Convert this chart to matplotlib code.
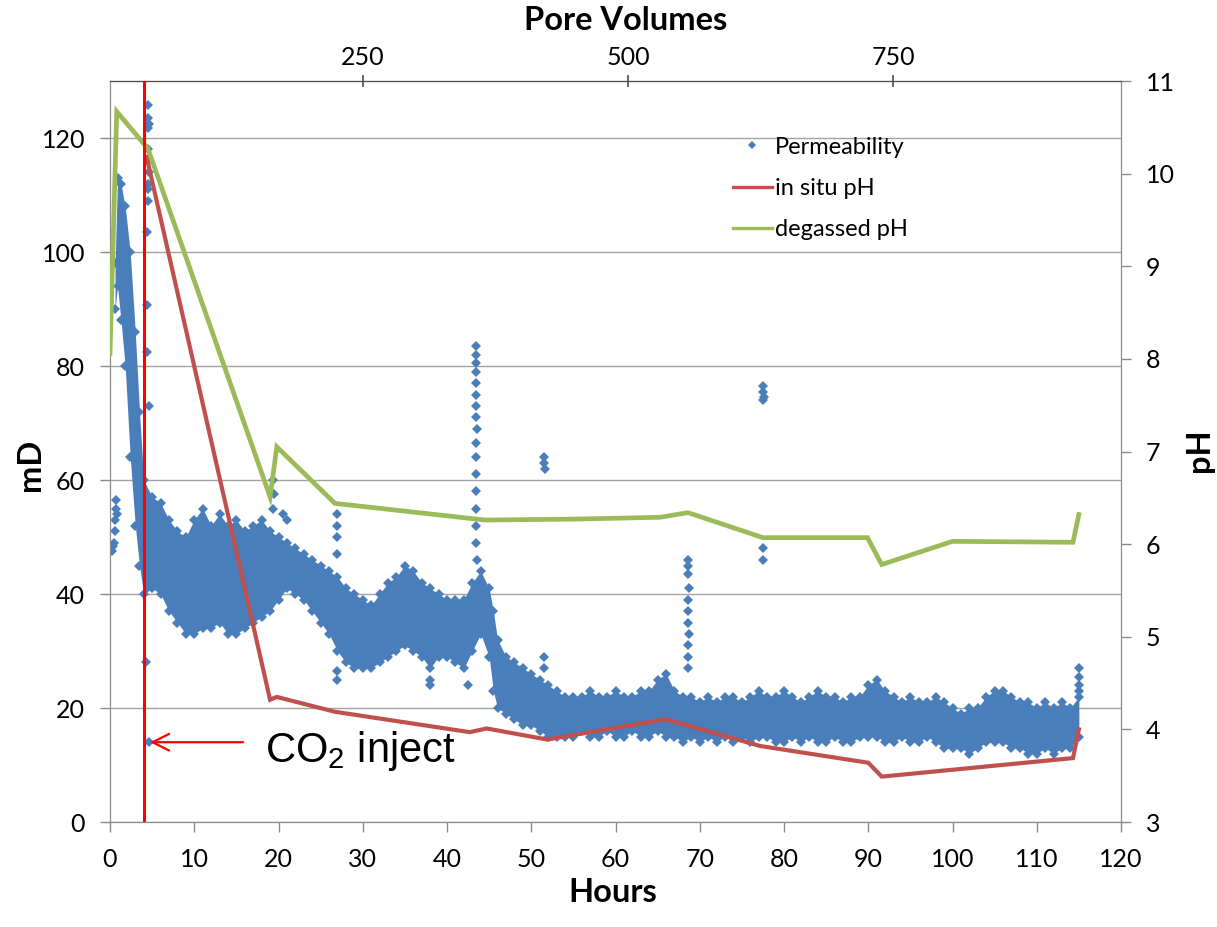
import numpy as np
import matplotlib
matplotlib.use("Agg")
import matplotlib.pyplot as plt
from matplotlib.lines import Line2D

plt.rcParams.update({
    "font.family": ["Lato", "DejaVu Sans"],
    "font.size": 18,
    "mathtext.fontset": "custom",
    "mathtext.rm": "Liberation Sans",
    "mathtext.it": "Liberation Sans:italic",
})

BLUE = "#4a7ebb"
RED = "#c0504d"
GREEN = "#9bbb59"
GRID = "#a3a3a3"
AXIS = "#8a8a8a"

# degassed pH (green) and in situ pH (red), right axis
degas_h = [0.0, 0.8, 4.5, 19.0, 19.8, 26.7, 44.5, 55.0, 65.3, 68.6, 77.5, 89.9, 91.6, 100.0, 114.3, 115.0]
degas_ph = [8.06, 10.67, 10.27, 6.51, 7.05, 6.44, 6.26, 6.27, 6.29, 6.34, 6.07, 6.07, 5.78, 6.03, 6.02, 6.32]

insitu_h = [4.35, 19.0, 19.8, 26.7, 42.7, 44.7, 51.9, 65.9, 77.2, 90.0, 91.6, 114.3, 115.0]
insitu_ph = [10.18, 4.32, 4.35, 4.19, 3.97, 4.01, 3.89, 4.11, 3.82, 3.64, 3.49, 3.69, 4.00]

# permeability: dense band (lower / upper edge of the cloud), mD
perm_h = [0.6, 0.9, 1.3, 1.8, 2.4, 3.0, 3.5, 4.0,
          5, 6, 7, 8, 9, 10, 11, 12, 13, 14, 15, 16, 17, 18, 19, 20,
          21, 22, 23, 24, 25, 26, 27, 28, 29, 30, 31, 32, 33, 34, 35, 36,
          37, 38, 39, 40, 41, 42, 43, 44, 45, 45.5, 46, 47, 48, 49, 50,
          51, 52, 53, 54, 55, 56, 57, 58, 59, 60, 61, 62, 63, 64, 65,
          66, 67, 68, 69, 70, 71, 72, 73, 74, 75, 76, 77, 78, 79, 80,
          81, 82, 83, 84, 85, 86, 87, 88, 89, 90, 91, 92, 93, 94, 95,
          96, 97, 98, 99, 100, 101, 102, 103, 104, 105, 106, 107, 108, 109, 110,
          111, 112, 113, 114, 115]
perm_lo = [90, 94, 88, 80, 64, 52, 45, 40,
           41, 40, 37, 35, 33, 33, 34, 34, 35, 33, 33, 34, 35, 36, 37, 39,
           41, 40, 39, 37, 35, 33, 30, 28, 27, 27, 27, 28, 29, 30, 31, 30,
           29, 27, 29, 29, 28, 27, 30, 33, 29, 23, 20, 19, 18, 17, 17,
           16, 15, 15, 15, 15, 16, 15, 15, 16, 15, 15, 16, 15, 15, 16,
           15, 15, 14, 15, 14, 15, 14, 15, 14, 15, 14, 15, 15, 14, 14,
           15, 14, 15, 14, 14, 15, 14, 14, 15, 15, 15, 14, 14, 15, 14,
           14, 15, 14, 13, 13, 13, 12, 13, 14, 14, 14, 13, 13, 12, 12,
           13, 12, 13, 13, 15]
perm_hi = [98, 113, 112, 108, 100, 86, 72, 60,
           57, 56, 53, 51, 50, 53, 55, 52, 54, 52, 53, 51, 52, 53, 51, 50,
           49, 48, 47, 46, 45, 44, 43, 41, 40, 39, 38, 40, 42, 43, 45, 44,
           42, 41, 40, 39, 39, 39, 42, 44, 41, 37, 32, 29, 28, 27, 26,
           25, 24, 23, 22, 22, 22, 23, 22, 22, 23, 22, 22, 23, 23, 25,
           26, 23, 22, 22, 21, 22, 21, 22, 22, 21, 22, 23, 22, 22, 23,
           22, 21, 22, 23, 22, 22, 21, 22, 22, 24, 25, 23, 22, 21, 22,
           21, 21, 22, 21, 20, 19, 20, 20, 22, 23, 23, 22, 21, 21, 20,
           21, 20, 21, 20, 22]

# permeability: isolated points and spikes outside the band
out_h = [0.1, 0.2, 0.3, 0.5, 0.6, 0.6, 0.7, 0.7, 0.8,
         4.5, 4.5, 4.6, 4.5, 4.55, 4.5, 4.6, 4.5, 4.5, 4.5, 4.4, 4.4, 4.4, 4.6, 4.6, 4.3, 4.6,
         19.3, 19.5, 19.4, 20.5, 21.0,
         27.0, 27.0, 27.0, 27.0, 27.0, 27.0,
         38.0, 38.0, 42.5,
         43.5, 43.5, 43.5, 43.5, 43.5, 43.4, 43.5, 43.5, 43.6, 43.5, 43.5, 43.5, 43.5, 43.4, 43.5, 43.5, 43.6,
         51.5, 51.5, 51.6, 51.5, 51.5,
         68.6, 68.6, 68.6, 68.7, 68.6, 68.6, 68.6, 68.7, 68.6, 68.6, 68.6,
         77.5, 77.5, 77.6, 77.5, 77.5, 77.5,
         115.0, 115.0, 115.0, 115.0]
out_md = [48, 47.5, 48.5, 49, 51, 53, 55, 56.5, 54,
          125.8, 123.5, 122.5, 121.8, 118, 116, 114, 112, 111, 109, 103.5, 90.7, 82.5, 73, 57, 28, 14,
          60, 57.5, 55, 54, 53,
          54, 52, 50, 47, 26.5, 25,
          25, 24, 24,
          83.5, 82, 80.5, 79, 77, 75, 73, 71, 69, 66.5, 64, 61, 58, 55, 52, 49, 46,
          64, 63, 62, 29, 27,
          46, 45, 43.5, 41, 39, 37, 35, 33, 31, 29, 27,
          76.5, 75.5, 74.5, 74, 48, 46,
          27, 25.5, 24, 23]

inject_h = 4.0

# pore volumes on top axis
PV_OFFSET = 11.8
PV_PER_HOUR = 7.94


def h2pv(h):
    return PV_OFFSET + PV_PER_HOUR * np.asarray(h)


def pv2h(pv):
    return (np.asarray(pv) - PV_OFFSET) / PV_PER_HOUR


fig = plt.figure(figsize=(12.17, 9.27), dpi=100)
ax = fig.add_axes([110 / 1217, 1 - 822 / 927, 1011 / 1217, 741 / 927])
ax2 = ax.twinx()

# permeability cloud
ax.fill_between(perm_h, perm_lo, perm_hi, color=BLUE, lw=0, zorder=2)
for edge in (perm_lo, perm_hi):
    ax.plot(perm_h, edge, ls="none", marker="D", ms=5.5, color=BLUE, mew=0, zorder=2)
ax.plot(out_h, out_md, ls="none", marker="D", ms=5.5, color=BLUE, mew=0, zorder=2)

ax.set_xlim(0, 120)
ax.set_ylim(0, 130)
ax.set_xticks(np.arange(0, 121, 10))
ax.set_yticks(np.arange(0, 121, 20))
ax.yaxis.grid(True, color=GRID, lw=1.0)
ax.set_axisbelow(True)

# pH lines
ax2.plot(insitu_h, insitu_ph, color=RED, lw=3.0, solid_joinstyle="miter", zorder=3)
ax2.plot(degas_h, degas_ph, color=GREEN, lw=3.4, solid_joinstyle="miter", zorder=3)
ax2.set_ylim(3, 11)
ax2.set_yticks(np.arange(3, 12, 1))
ax2.axvline(inject_h, color="#ff0000", lw=2.2, zorder=5)

for a in (ax, ax2):
    for side in ("left", "right", "bottom"):
        a.spines[side].set_color(AXIS)
    a.spines["top"].set_color("#4d4d4d")

ax.tick_params(axis="x", direction="out", length=7, width=1, color=AXIS, pad=12)
ax.tick_params(axis="y", direction="out", length=7, width=1, color=AXIS, pad=11)
ax2.tick_params(axis="y", direction="out", length=7, width=1, color=AXIS, pad=11)

secax = ax.secondary_xaxis("top", functions=(h2pv, pv2h))
secax.set_xticks([250, 500, 750])
secax.tick_params(direction="inout", length=9, width=1.2, color="#4d4d4d", pad=4)
secax.spines["top"].set_color("#4d4d4d")

bold = dict(fontsize=23.5, fontweight="bold")
ax.set_xlabel("Hours", **bold, va="center")
ax.xaxis.set_label_coords(0.497, -0.095)
ax.set_ylabel("mD", **bold, va="center")
ax.yaxis.set_label_coords(-0.079, 0.482)
ax2.set_ylabel("pH", **bold, va="center", rotation=90)
ax2.yaxis.set_label_coords(1.078, 0.502)
secax.set_xlabel("Pore Volumes", **bold, va="center")
secax.xaxis.set_label_coords(0.51, 1.082, transform=ax.transAxes)

handles = [
    Line2D([], [], ls="none", marker="D", ms=4.5, color=BLUE, mew=0),
    Line2D([], [], color=RED, lw=2.4),
    Line2D([], [], color=GREEN, lw=2.4),
]
ax2.legend(handles, ["Permeability", "in situ pH", "degassed pH"],
           loc="upper left", bbox_to_anchor=(0.616, 0.925), frameon=False,
           fontsize=17, handlelength=1.65, handletextpad=0.12,
           labelspacing=0.86, borderpad=0, borderaxespad=0)

ax.annotate("", xy=(4.75, 14.0), xytext=(15.8, 14.0),
            arrowprops=dict(arrowstyle="->", color="#ff0000", lw=1.6,
                            mutation_scale=30, shrinkA=0, shrinkB=0),
            zorder=6)
ax.text(18.4, 10.5, r"CO$_2$ inject", fontsize=30, va="baseline", ha="left",
        family="Liberation Sans", zorder=6)

fig.savefig("out.png", dpi=100)
